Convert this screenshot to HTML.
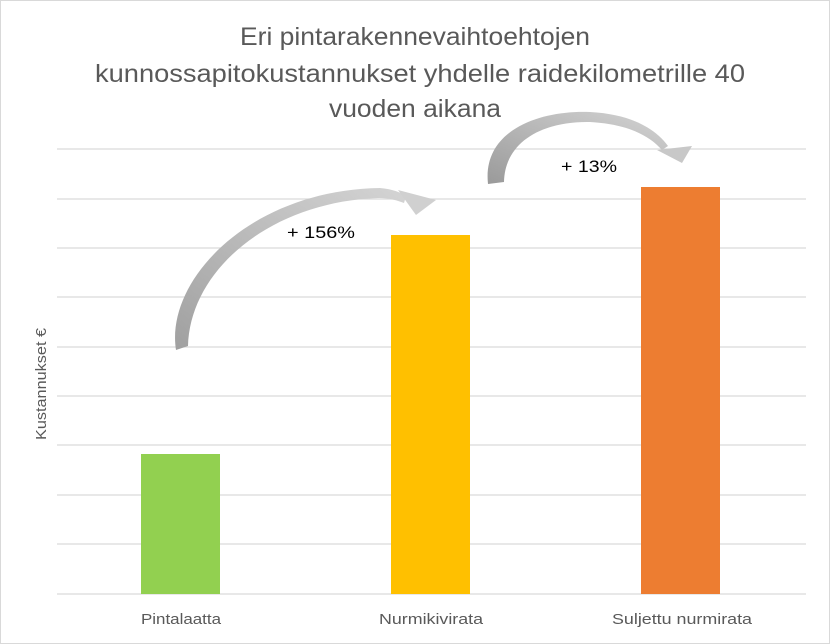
<!DOCTYPE html>
<html><head><meta charset="utf-8"><style>
body{margin:0;background:#fff}
svg{display:block;font-family:"Liberation Sans",Calibri,sans-serif}
</style></head><body>
<svg width="830" height="644" viewBox="0 0 830 644">
<rect x="0.5" y="0.5" width="829" height="643" fill="#fff" stroke="#d9d9d9"/>
<defs>
<linearGradient id="g1" x1="0" y1="1" x2="1" y2="0"><stop offset="0" stop-color="#a0a0a0"/><stop offset="1" stop-color="#d4d4d4"/></linearGradient>
<linearGradient id="g2" x1="0" y1="1" x2="1" y2="0"><stop offset="0" stop-color="#9a9a9a"/><stop offset="1" stop-color="#d4d4d4"/></linearGradient>
</defs>
<g fill="#595959" font-size="25" text-anchor="middle" lengthAdjust="spacingAndGlyphs">
<text x="415" y="45" textLength="350" lengthAdjust="spacingAndGlyphs">Eri pintarakennevaihtoehtojen</text>
<text x="420" y="82" textLength="650" lengthAdjust="spacingAndGlyphs">kunnossapitokustannukset yhdelle raidekilometrille 40</text>
<text x="415" y="117" textLength="172" lengthAdjust="spacingAndGlyphs">vuoden aikana</text>
</g>
<g stroke="#d9d9d9" stroke-width="1.3">
<line x1="57" x2="806" y1="149" y2="149"/><line x1="57" x2="806" y1="199" y2="199"/>
<line x1="57" x2="806" y1="248" y2="248"/><line x1="57" x2="806" y1="297" y2="297"/>
<line x1="57" x2="806" y1="347" y2="347"/><line x1="57" x2="806" y1="396" y2="396"/>
<line x1="57" x2="806" y1="445" y2="445"/><line x1="57" x2="806" y1="495" y2="495"/>
<line x1="57" x2="806" y1="544" y2="544"/><line x1="57" x2="806" y1="594" y2="594"/>
</g>
<rect x="141" y="454" width="79" height="140" fill="#92d050"/>
<rect x="391" y="235" width="79" height="359" fill="#ffc000"/>
<rect x="641" y="187" width="79" height="407" fill="#ed7d31"/>
<path d="M176 350 C165 280 250 190 380 188 C392 189 400 192 406 196 L404 203 C396 200 388 198 378 198 C270 202 190 270 188 346 Z" fill="url(#g1)"/>
<path d="M398 190 L436 200 L416 215 Z" fill="#d0d0d0"/>
<path d="M488 184 C482 130 540 110 590 112 C630 114 655 128 668 146 L662 150 C648 134 625 124 590 122 C545 121 505 140 504 182 Z" fill="url(#g2)"/>
<path d="M657 150 L692 146 L682 163 Z" fill="#c8c8c8"/>
<text x="321" y="238" font-size="17" fill="#000" text-anchor="middle" textLength="68" lengthAdjust="spacingAndGlyphs">+ 156%</text>
<text x="589" y="172" font-size="17" fill="#000" text-anchor="middle" textLength="56" lengthAdjust="spacingAndGlyphs">+ 13%</text>
<g font-size="15" fill="#595959" text-anchor="middle">
<text x="181" y="624" textLength="80" lengthAdjust="spacingAndGlyphs">Pintalaatta</text>
<text x="431" y="624" textLength="104" lengthAdjust="spacingAndGlyphs">Nurmikivirata</text>
<text x="682" y="624" textLength="140" lengthAdjust="spacingAndGlyphs">Suljettu nurmirata</text>
<text transform="translate(46 384) rotate(-90)" textLength="112" lengthAdjust="spacingAndGlyphs">Kustannukset €</text>
</g>
</svg>
</body></html>
